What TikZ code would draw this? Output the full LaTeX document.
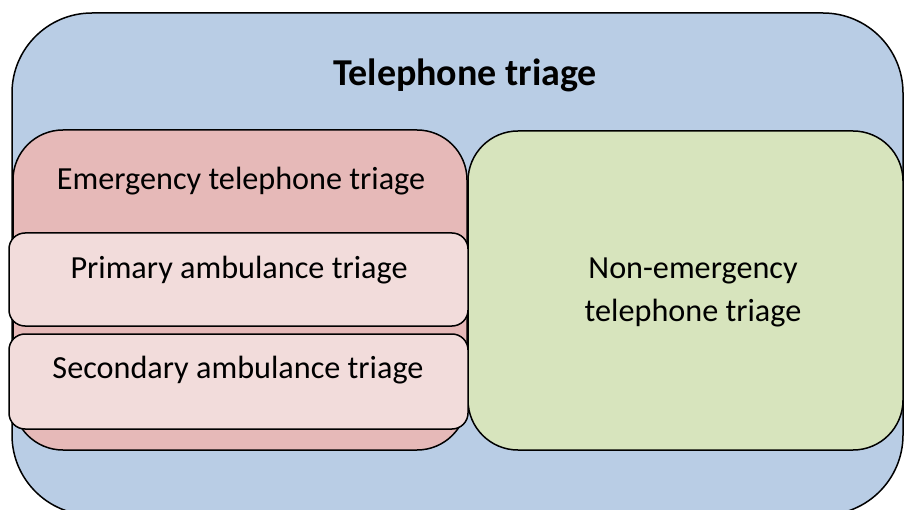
\documentclass[tikz,border=0pt]{standalone}
\usepackage{fontspec}
\setmainfont{Carlito}
\usetikzlibrary{positioning}
\definecolor{outerblue}{HTML}{B9CDE5}
\definecolor{emred}{HTML}{E6B9B8}
\definecolor{subpink}{HTML}{F2DCDB}
\definecolor{nongreen}{HTML}{D7E4BD}
\tikzset{
    box/.style = {rectangle, draw=black, line width=1.5pt, inner sep=0pt},
    outerbox/.style = {box, rounded corners=80pt, fill=outerblue},
    bigbox/.style = {box, rounded corners=50pt},
    subbox/.style = {box, rounded corners=16pt, fill=subpink},
    txt/.style = {font=\fontsize{32.2}{43}\selectfont, align=center},
    titletxt/.style = {font=\fontsize{38}{44}\selectfont\bfseries}
}
\begin{document}
\begin{tikzpicture}[x=1pt,y=1pt]
%
\useasboundingbox (0,0) rectangle (904,509);
\clip (0,0) rectangle (904,509);
%
\node[outerbox, minimum width=891pt, minimum height=502pt] at (457.5,245) (tel) {};
\node[bigbox, fill=emred, minimum width=454pt, minimum height=320pt] at (240,219) (emerg) {};
\node[bigbox, fill=nongreen, minimum width=435pt, minimum height=319pt] at (685.5,218.5) (nonem) {};
\node[subbox, minimum width=459pt, minimum height=93pt] at (238.5,229.5) (prim) {};
\node[subbox, minimum width=459pt, minimum height=95pt] at (238.5,127.5) (sec) {};
%
\node[titletxt] at (465,434) (teltxt) {Telephone triage};
\node[txt] at (241,328) (emergtxt) {Emergency telephone triage};
\node[txt] at (239,239) (primtxt) {Primary ambulance triage};
\node[txt] at (238,139) (sectxt) {Secondary ambulance triage};
\node[txt] at (693,217) (nonemtxt) {Non-emergency\\telephone triage};

\end{tikzpicture}
\end{document}
